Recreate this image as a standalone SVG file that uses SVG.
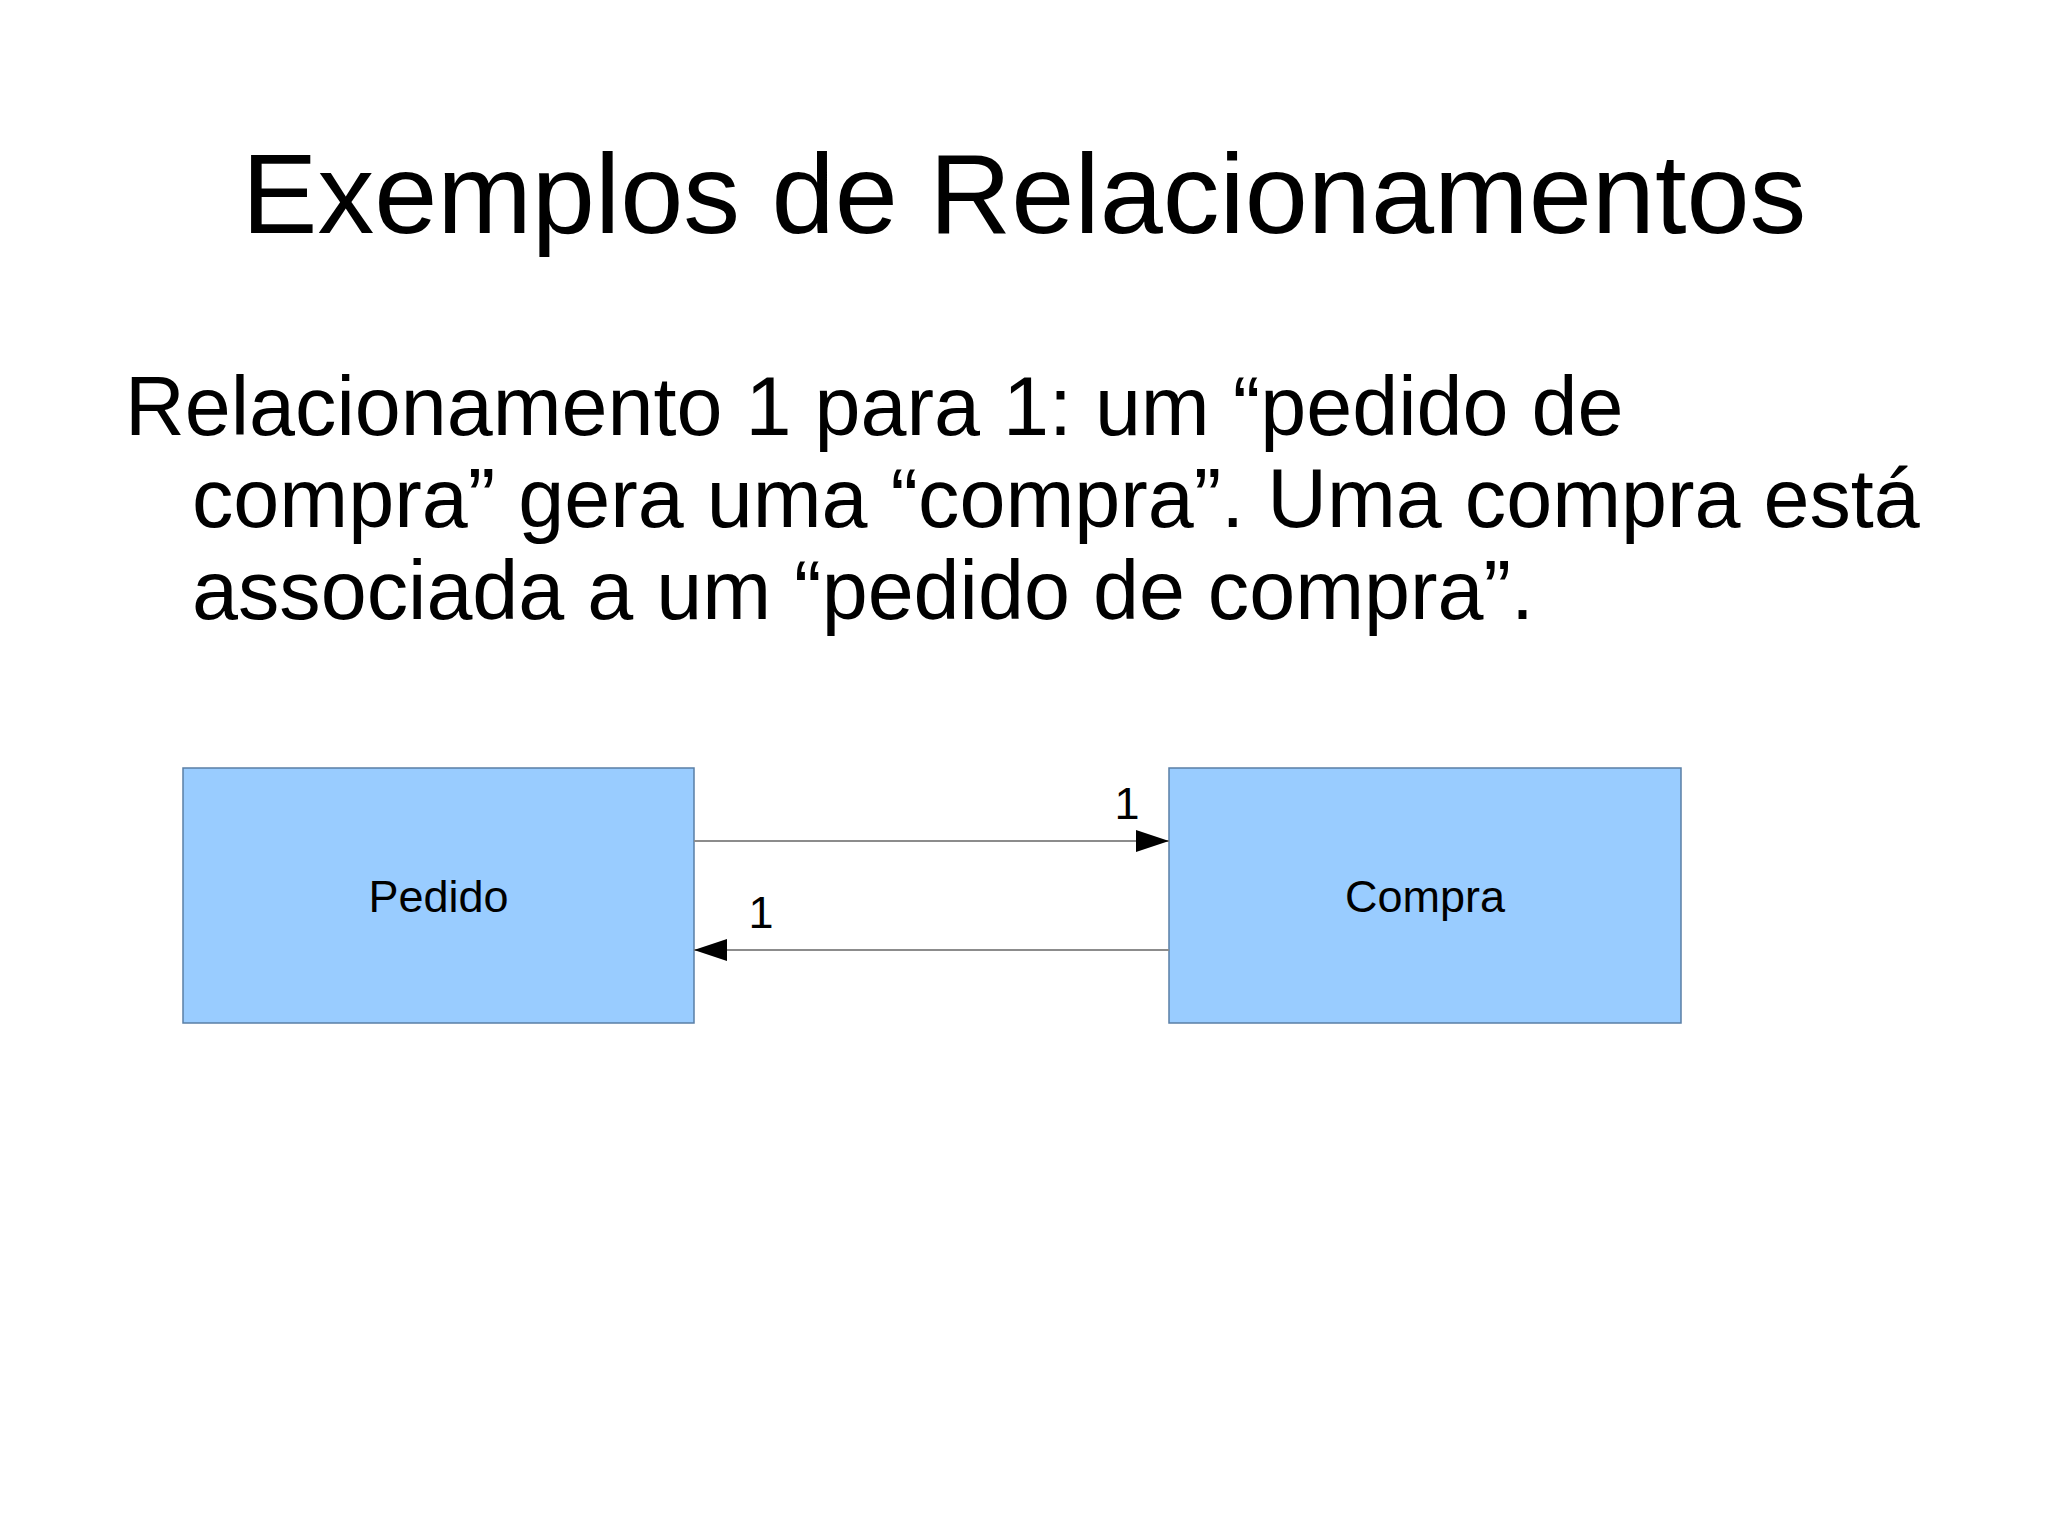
<svg xmlns="http://www.w3.org/2000/svg" width="2048" height="1535" viewBox="0 0 2048 1535">
<defs>
<style>
text{font-family:"Liberation Sans",Arial,sans-serif;fill:#000}
.title{font-size:113.5px}
.body{font-size:82.7px}
.box{fill:#99ccff;stroke:#5a7fa6;stroke-width:1.5}
.lbl{font-size:45px;text-anchor:middle}
.conn{stroke:#8c8c8c;stroke-width:2;fill:none}
</style>
<marker id="arr" markerWidth="33" markerHeight="22" refX="33" refY="11" orient="auto" markerUnits="userSpaceOnUse">
<path d="M0,0 L33,11 L0,22 Z" fill="#000"/>
</marker>
</defs>
<rect width="2048" height="1535" fill="#fff"/>
<text class="title" x="1024" y="233" text-anchor="middle">Exemplos de Relacionamentos</text>
<text class="body" x="125" y="435">Relacionamento 1 para 1: um “pedido de</text>
<text class="body" x="192" y="527">compra” gera uma “compra”. Uma compra está</text>
<text class="body" x="192" y="619">associada a um “pedido de compra”.</text>
<g id="pedido">
<rect class="box" x="183" y="768" width="511" height="255"/>
<text class="lbl" x="438.5" y="912">Pedido</text>
</g>
<g id="compra">
<rect class="box" x="1169" y="768" width="512" height="255"/>
<text class="lbl" x="1425" y="912">Compra</text>
</g>
<g id="connectors">
<line class="conn" x1="694" y1="841" x2="1169" y2="841" marker-end="url(#arr)"/>
<text class="lbl" x="1127" y="819">1</text>
<line class="conn" x1="1169" y1="950" x2="694" y2="950" marker-end="url(#arr)"/>
<text class="lbl" x="761" y="928">1</text>
</g>
</svg>
